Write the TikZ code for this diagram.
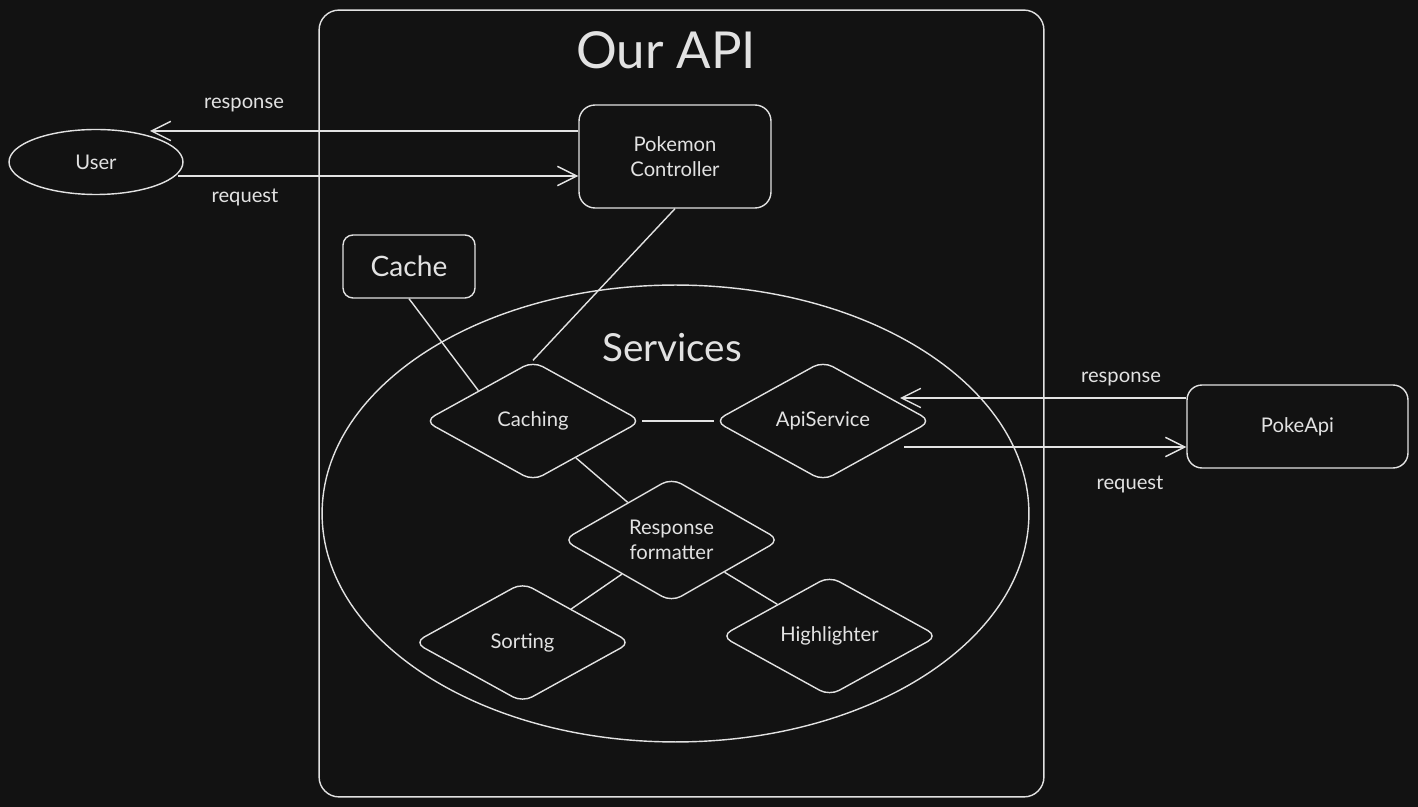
\documentclass[tikz,border=0pt]{standalone}
\usepackage{fontspec}
\setmainfont{Lato}
\usetikzlibrary{shapes.geometric,arrows.meta,calc}
\definecolor{bg}{HTML}{121212}
\definecolor{ink}{HTML}{E2E2E2}
\begin{document}
\begin{tikzpicture}[x=0.02cm,y=-0.02cm,
  ln/.style={draw=ink, line width=0.8pt},
  arr/.style={ln, -{Straight Barb[length=11pt,width=11pt,line width=0.8pt]}},
  txt/.style={text=ink, font=\fontsize{11.5}{14}\selectfont, align=center, inner sep=0pt},
  box/.style={txt, draw=ink, line width=0.8pt, rounded corners=0.32cm},
  dia/.style={txt, diamond, draw=ink, line width=0.8pt, rounded corners=0.22cm,
              minimum width=4.34cm, minimum height=2.40cm},
  ell/.style={ellipse, draw=ink, line width=0.8pt, inner sep=0pt}
]
\fill[bg] (0,0) rectangle (1418,807);
\useasboundingbox (0,0) rectangle (1418,807);

% Our API container
\node[box, rounded corners=0.4cm, minimum width=14.5cm, minimum height=15.74cm] (api) at (681.5,403.5) {};
\node[txt, font=\fontsize{29}{32}\selectfont] (apititle) at (666,50) {Our API};

% User
\node[ell, txt, minimum width=3.48cm, minimum height=1.3cm] (user) at (96,162) {User};

% Controller
\node[box, minimum width=3.84cm, minimum height=2.06cm] (ctrl) at (675,156.5) {Pokemon\\Controller};

% Cache
\node[box, rounded corners=0.2cm, minimum width=2.64cm, minimum height=1.26cm,
      font=\fontsize{16}{18}\selectfont] (cache) at (409,266.5) {Cache};

% Services ellipse
\node[ell, minimum width=14.14cm, minimum height=9.14cm] (svc) at (675.5,513.5) {};
\node[txt, font=\fontsize{22}{24}\selectfont] (svctitle) at (672,348) {Services};

% Diamonds
\node[dia] (caching) at (533,421) {Caching};
\node[dia] (apis) at (823,421) {ApiService};
\node[dia] (fmt) at (671.5,540) {Response\\formatter};
\node[dia] (sort) at (522.5,642.5) {Sorting};
\node[dia] (hl) at (829.5,636) {Highlighter};

% PokeApi
\node[box, rounded corners=0.3cm, minimum width=4.42cm, minimum height=1.66cm] (poke) at (1297.5,426.5) {PokeApi};

% Connections inside
\draw[ln] (cache.south) -- (caching.north west);
\draw[ln] (ctrl.south) -- (caching.north);
\draw[ln] (caching.east) -- (apis.west);
\draw[ln] (caching) -- (fmt);
\draw[ln] (fmt) -- (sort);
\draw[ln] (fmt) -- (hl);

% User <-> Controller
\coordinate (uresp) at (150,131);
\coordinate (ureq) at (178,176);
\draw[arr] (ctrl.west |- uresp) -- (uresp);
\draw[arr] (ureq) -- (ctrl.west |- ureq);
\node[txt] (lresp1) at (244,105) {response};
\node[txt] (lreq1) at (245,197) {request};

% ApiService <-> PokeApi
\coordinate (aresp) at (900,398);
\coordinate (areq) at (904,447);
\draw[arr] (poke.west |- aresp) -- (aresp);
\draw[arr] (areq) -- (poke.west |- areq);
\node[txt] (lresp2) at (1121,379) {response};
\node[txt] (lreq2) at (1130,484) {request};
\end{tikzpicture}
\end{document}
